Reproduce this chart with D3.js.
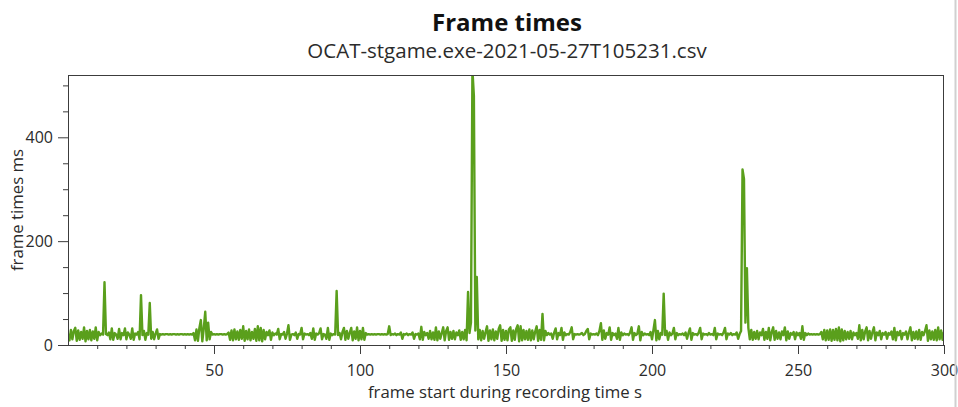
<!DOCTYPE html>
<html><head><meta charset="utf-8">
<script src="https://cdn.jsdelivr.net/npm/d3@7"></script>
<style>
html,body{margin:0;padding:0;background:#fff;}
svg{display:block;font-family:"Segoe UI","Open Sans","Noto Sans",sans-serif;}
</style></head>
<body><svg id="c" width="958" height="407"></svg>
<script>
const title = "Frame times";
const subtitle = "OCAT-stgame.exe-2021-05-27T105231.csv";
const xTitle = "frame start during recording time s";
const yTitle = "frame times ms";
const xMajorTicks = [50, 100, 150, 200, 250, 300];
const yMajorTicks = [0, 200, 400];
const xDomain = [0, 300];
const yDomain = [0, 520];
const sampleStart = 0;     // s
const sampleStep = 0.5;    // s between plotted samples
// frame times (ms), one row per 10 s of recording
const frameMs = [
 21,9,29,11,27,33,8,28,10,25,12,34,7,27,11,29,9,26,12,34,
 9,25,19,22,20,121,21,19,24,11,32,10,23,20,12,31,11,23,19,32,
 11,24,20,12,32,10,22,20,25,11,96,19,27,10,23,20,81,12,25,11,
 22,30,12,21,20,21,20,21,21,20,21,20,21,21,20,21,20,21,21,20,
 21,20,21,20,21,20,23,9,30,8,33,48,7,32,64,9,43,11,25,20,
 21,20,21,20,21,21,20,21,20,21,24,10,28,9,30,11,26,10,29,12,
 36,8,27,11,30,9,25,12,31,8,36,9,33,7,29,11,25,19,28,10,
 24,19,22,20,31,11,21,20,25,12,22,38,10,20,21,19,24,12,21,20,
 33,11,22,20,21,19,23,12,32,10,22,20,23,32,11,21,20,12,33,10,
 22,19,21,20,104,19,23,11,25,33,10,27,12,24,33,9,26,12,34,9,
 27,11,33,10,23,20,21,20,21,20,21,20,21,21,20,21,20,21,20,21,
 36,19,21,20,22,19,21,20,24,12,21,20,22,19,21,20,24,12,21,20,
 22,11,35,10,25,19,23,12,27,11,24,10,34,9,26,12,23,34,9,27,
 34,10,25,12,27,11,24,19,28,10,25,11,29,9,102,23,43,530,480,28,
 131,11,29,9,27,12,25,36,8,28,11,30,9,26,12,31,38,8,29,10,
 27,9,30,34,8,28,10,31,38,7,36,9,29,11,27,10,30,9,28,11,
 26,36,8,29,10,60,9,27,19,23,20,22,12,24,32,11,23,19,33,10,
 24,19,21,20,25,34,11,21,20,21,20,21,23,19,21,27,31,11,22,20,
 21,20,22,19,27,42,10,28,12,23,20,34,10,23,19,22,12,33,10,24,
 19,22,20,21,19,24,34,10,23,19,22,36,9,25,19,22,20,21,19,25,
 11,29,48,9,27,11,23,20,99,19,27,10,24,19,22,33,11,23,19,21,
 20,22,19,24,12,23,32,10,23,20,21,19,24,33,11,22,20,21,19,23,
 20,21,19,33,11,22,20,21,19,24,33,11,22,20,23,19,21,20,24,12,
 21,27,338,320,43,148,33,11,29,10,25,12,27,11,24,19,31,10,25,12,
 33,9,25,34,10,27,12,24,11,26,19,34,9,26,12,23,20,25,11,24,
 19,23,12,36,10,23,19,22,20,21,20,21,20,21,20,21,25,11,29,9,
 28,10,30,8,29,10,31,9,34,7,30,9,27,11,25,12,27,11,24,19,
 23,12,38,9,29,11,26,34,9,27,12,25,34,9,24,19,27,11,23,20,
 25,12,23,20,26,11,33,9,25,19,27,11,23,20,26,11,24,34,9,25,
 12,26,11,29,10,25,19,27,38,8,28,11,26,10,29,9,34,11,28,10,
 25
];

const W = 958, H = 407;
const m = {left: 68, right: 944, top: 75, bottom: 345};
const svg = d3.select("#c");
const axisColor = "#3c3c3c";
const textColor = "#2b2b2b";
const fontFam = "'Segoe UI','Open Sans','Noto Sans',sans-serif";

const x = d3.scaleLinear().domain(xDomain).range([m.left, m.right]);
const y = d3.scaleLinear().domain(yDomain).range([m.bottom, m.top]);

const data = frameMs.map((v, i) => ({t: sampleStart + i * sampleStep, v}));

// clip
svg.append("defs").append("clipPath").attr("id", "plotclip")
  .append("rect").attr("x", m.left).attr("y", m.top)
  .attr("width", m.right - m.left).attr("height", m.bottom - m.top);

// line
const line = d3.line().x(d => x(d.t)).y(d => y(d.v));
svg.append("path").datum(data)
  .attr("clip-path", "url(#plotclip)")
  .attr("fill", "none").attr("stroke", "#5a9f1c")
  .attr("stroke-width", 2.4).attr("stroke-linejoin", "round")
  .attr("d", line);

// frame
svg.append("rect").attr("x", m.left + 0.5).attr("y", m.top + 0.5)
  .attr("width", m.right - m.left - 1).attr("height", m.bottom - m.top)
  .attr("fill", "none").attr("stroke", axisColor).attr("stroke-width", 1);

// x axis
const xMinor = d3.range(10, 301, 10).filter(v => !xMajorTicks.includes(v));
const gx = svg.append("g").attr("transform", `translate(0,${m.bottom})`);
gx.call(d3.axisBottom(x).tickValues(xMinor).tickSize(4).tickFormat(""))
  .call(g => g.select(".domain").remove());
gx.append("g").call(d3.axisBottom(x).tickValues(xMajorTicks).tickSize(9).tickPadding(11).tickFormat(d3.format("d")))
  .call(g => g.select(".domain").remove());
gx.selectAll("line").attr("stroke", axisColor);
gx.selectAll("text").attr("fill", textColor).style("font-size", "16px").style("font-family", fontFam);

// y axis
const yMinor = d3.range(50, 501, 50).filter(v => !yMajorTicks.includes(v));
const gy = svg.append("g").attr("transform", `translate(${m.left},0)`);
gy.call(d3.axisLeft(y).tickValues(yMinor).tickSize(5).tickFormat(""))
  .call(g => g.select(".domain").remove());
gy.append("g").call(d3.axisLeft(y).tickValues(yMajorTicks).tickSize(10).tickPadding(5).tickFormat(d3.format("d")))
  .call(g => g.select(".domain").remove());
gy.selectAll("line").attr("stroke", axisColor);
gy.selectAll("text").attr("fill", textColor).style("font-size", "16px").style("font-family", fontFam);

// titles
const cx = (m.left + m.right) / 2 + 1;
svg.append("text").attr("x", cx).attr("y", 31).attr("text-anchor", "middle")
  .attr("fill", "#111").style("font-size", "24px").style("font-weight", "bold").text(title);
svg.append("text").attr("x", cx).attr("y", 58).attr("text-anchor", "middle")
  .attr("fill", textColor).style("font-size", "20.5px").text(subtitle);
svg.append("text").attr("x", cx - 2).attr("y", 398).attr("text-anchor", "middle")
  .attr("fill", textColor).style("font-size", "16.8px").text(xTitle);
svg.append("text").attr("transform", `translate(23,${(m.top + m.bottom) / 2}) rotate(-90)`)
  .attr("text-anchor", "middle").attr("fill", textColor).style("font-size", "16.8px").text(yTitle);

// window edge at the right
svg.append("line").attr("x1", 955.5).attr("x2", 955.5).attr("y1", 0).attr("y2", H)
  .attr("stroke", "#d0d0d0").attr("stroke-width", 2);
</script></body></html>
